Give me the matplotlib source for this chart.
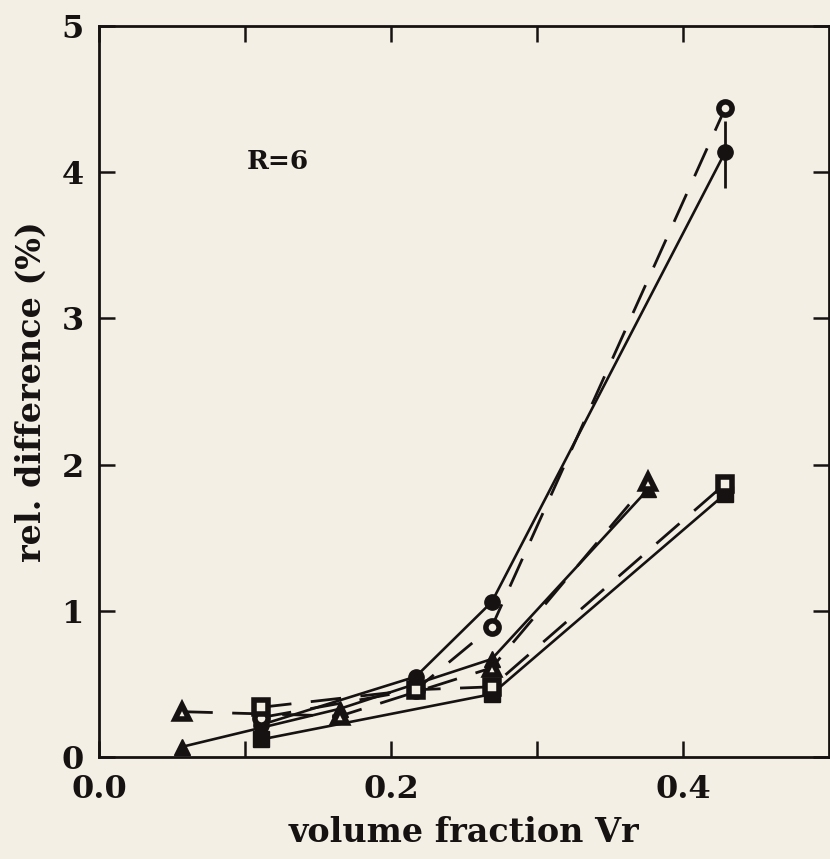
import matplotlib
matplotlib.use("Agg")
import matplotlib.pyplot as plt

# values (R=6)
circ_solid_x = [0.111, 0.217, 0.269, 0.429]
circ_solid_y = [0.22, 0.55, 1.06, 4.14]
circ_dash_x = [0.111, 0.217, 0.269, 0.429]
circ_dash_y = [0.27, 0.46, 0.89, 4.44]

tri_solid_x = [0.057, 0.165, 0.269, 0.376]
tri_solid_y = [0.07, 0.33, 0.67, 1.83]
tri_dash_x = [0.057, 0.165, 0.269, 0.376]
tri_dash_y = [0.31, 0.28, 0.61, 1.88]

sq_solid_x = [0.111, 0.269, 0.429]
sq_solid_y = [0.12, 0.43, 1.80]
sq_dash_x = [0.111, 0.217, 0.269, 0.429]
sq_dash_y = [0.34, 0.46, 0.48, 1.87]

err_x = [0.429]
err_y = [4.12]
err_val = [0.23]

x_ticks = [0.0, 0.2, 0.4]
x_minor = [0.1, 0.3]
y_ticks = [0, 1, 2, 3, 4, 5]

bg = "#f4efe4"
ink = "#161212"
font = "DejaVu Serif"

plt.rcParams["font.family"] = font
plt.rcParams["font.weight"] = "bold"

fig = plt.figure(figsize=(8.30, 8.59), dpi=100, facecolor=bg)
ax = fig.add_axes([99 / 830, (859 - 757) / 859, 730 / 830, 731 / 859])
ax.set_facecolor(bg)

ms = 11
solid_kw = dict(color=ink, lw=1.9, ls="-", markersize=ms, mfc=ink, mec=ink)
dash_kw = dict(color=ink, lw=2.0, ls=(0, (11, 7)), markersize=ms - 1.5,
               mfc=bg, mec=ink, mew=4.0)

ax.plot(circ_solid_x, circ_solid_y, marker="o", **solid_kw)
ax.plot(circ_dash_x, circ_dash_y, marker="o", **dash_kw)
ax.plot(tri_solid_x, tri_solid_y, marker="^", **solid_kw)
ax.plot(tri_dash_x, tri_dash_y, marker="^", **dash_kw)
ax.plot(sq_solid_x, sq_solid_y, marker="s", **solid_kw)
ax.plot(sq_dash_x, sq_dash_y, marker="s", **dash_kw)
ax.errorbar(err_x, err_y, yerr=err_val, fmt="none", ecolor=ink,
            elinewidth=2.0, capsize=0)

ax.set_xlim(0, 0.5)
ax.set_ylim(0, 5)
ax.set_xticks(x_ticks)
ax.set_xticklabels(["%.1f" % v for v in x_ticks])
ax.set_xticks(x_minor, minor=True)
ax.set_yticks(y_ticks)
ax.set_yticklabels([str(v) for v in y_ticks])

ax.tick_params(which="both", direction="in", top=True, right=True,
               length=11.5, width=1.8, color=ink, labelcolor=ink,
               labelsize=23)
ax.tick_params(axis="x", pad=12)
ax.tick_params(axis="y", pad=11)

for s in ax.spines.values():
    s.set_linewidth(2.0)
    s.set_color(ink)

ax.text(0.101, 4.07, "R=6", fontsize=19, fontweight="bold", color=ink,
        va="center", ha="left")

ax.set_xlabel("volume fraction Vr", fontsize=24, fontweight="bold",
              color=ink, labelpad=8)
ax.set_ylabel("rel. difference (%)", fontsize=24, fontweight="bold",
              color=ink, labelpad=10)

fig.savefig("out.png", dpi=100, facecolor=bg)
